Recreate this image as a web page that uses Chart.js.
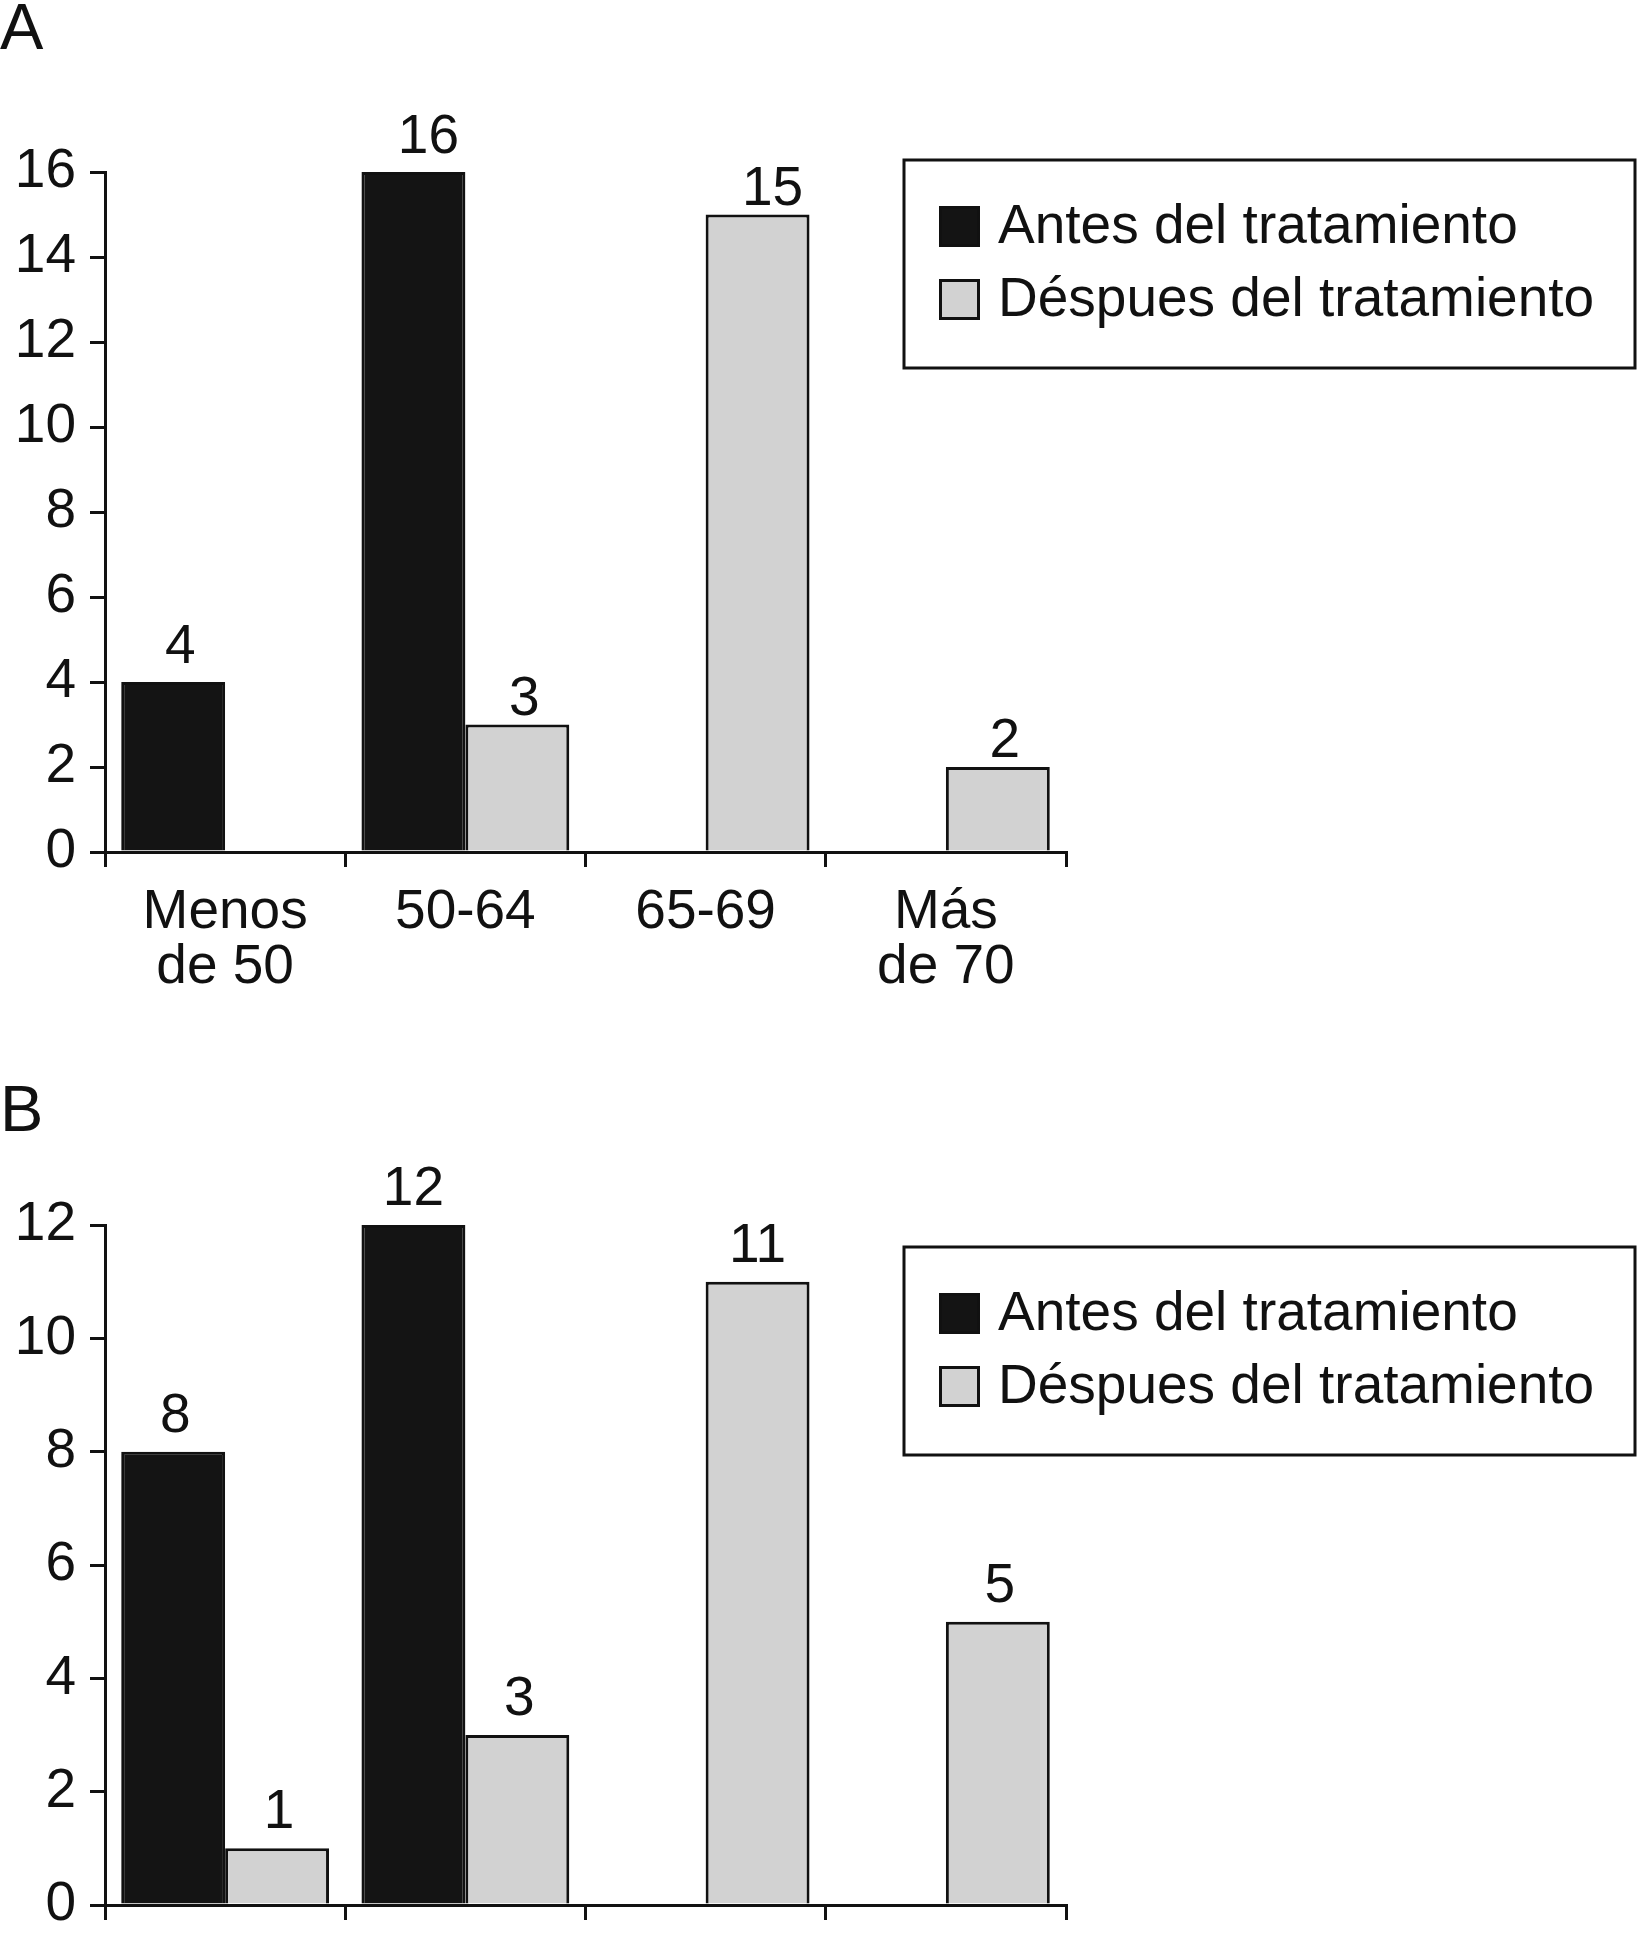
<!DOCTYPE html>
<html><head><meta charset="utf-8">
<script src="https://cdn.jsdelivr.net/npm/chart.js@4.4.0/dist/chart.umd.min.js"></script>
<style>
html,body{margin:0;padding:0;background:#fff;}
body{width:1638px;height:1938px;overflow:hidden;position:relative;font-family:"Liberation Sans",Arial,sans-serif;}
.panel{position:absolute;left:0;width:1638px;height:1040px;}
#wrapA{top:0;}
#wrapB{top:1000px;}
.letter{position:absolute;left:0;font-size:65px;line-height:65px;color:#111;}
</style></head><body>
<div class="panel" id="wrapA"><canvas id="chartA"></canvas></div>
<div class="panel" id="wrapB"><canvas id="chartB"></canvas></div>
<div class="letter" style="top:-6px">A</div>
<div class="letter" style="top:1076px">B</div>
<script>
// ---- data ----
const categories = [["Menos", "de 50"], "50-64", "65-69", ["Más", "de 70"]];
const seriesNames = ["Antes del tratamiento", "Déspues del tratamiento"];
const antesA = [4, 16, 0, 0];
const despuesA = [0, 3, 15, 2];
const antesB = [8, 12, 0, 0];
const despuesB = [1, 3, 11, 5];
const yMaxA = 16;
const yMaxB = 12;

// ---- styles ----
const FONT = '"Liberation Sans", Arial, sans-serif';
const INK = '#111111';
const BLACK = '#141414';
const GREY = '#d2d2d2';
Chart.defaults.font.family = FONT;
Chart.defaults.color = INK;

const boxLegend = {
  id: 'boxLegend',
  afterDraw(chart, args, o) {
    const ctx = chart.ctx;
    ctx.save();
    ctx.lineWidth = 3;
    ctx.strokeStyle = INK;
    ctx.strokeRect(o.x, o.y, o.w, o.h);
    chart.data.datasets.forEach((ds, i) => {
      const sy = o.y + o.firstRow + i * o.rowGap;
      const sx = o.x + o.sqX;
      ctx.fillStyle = ds.backgroundColor;
      ctx.fillRect(sx, sy, o.sq, o.sq);
      ctx.lineWidth = 3;
      ctx.strokeStyle = INK;
      ctx.strokeRect(sx + 1.5, sy + 1.5, o.sq - 3, o.sq - 3);
      ctx.fillStyle = INK;
      ctx.font = '55px ' + FONT;
      ctx.textAlign = 'left';
      ctx.textBaseline = 'alphabetic';
      ctx.fillText(ds.label, o.x + o.textX, sy + o.baseOff);
    });
    ctx.restore();
  }
};

const valueLabels = {
  id: 'valueLabels',
  afterDatasetsDraw(chart, args, o) {
    const ctx = chart.ctx;
    ctx.save();
    ctx.fillStyle = INK;
    ctx.font = '55px ' + FONT;
    ctx.textAlign = 'center';
    ctx.textBaseline = 'alphabetic';
    chart.data.datasets.forEach((ds, i) => {
      const meta = chart.getDatasetMeta(i);
      meta.data.forEach((bar, j) => {
        const v = ds.data[j];
        if (!v) return;
        const txt = String(v);
        const dx = txt.length > 1 ? o.dx2 : o.dx1;
        ctx.fillText(txt, bar.x + dx, bar.y + o.dy[i]);
      });
    });
    ctx.restore();
  }
};

function makeChart(id, antes, despues, yMax, padTop, xHeight, legendY, lbl) {
  return new Chart(document.getElementById(id), {
    type: 'bar',
    data: {
      labels: categories,
      datasets: [
        { label: seriesNames[0], data: antes, backgroundColor: BLACK, borderColor: INK, borderWidth: 3 },
        { label: seriesNames[1], data: despues, backgroundColor: GREY, borderColor: INK, borderWidth: 3 }
      ]
    },
    options: {
      responsive: true,
      maintainAspectRatio: false,
      animation: false,
      devicePixelRatio: 1,
      layout: { padding: { top: padTop, right: 572, left: 0, bottom: 0 } },
      datasets: { bar: { categoryPercentage: 0.865, barPercentage: 1.0 } },
      plugins: {
        legend: { display: false },
        tooltip: { enabled: false },
        boxLegend: { x: 904, y: legendY, w: 731, h: 208, sqX: 35, sq: 41, firstRow: 46, rowGap: 73, textX: 94, baseOff: 37 },
        valueLabels: lbl
      },
      scales: {
        x: {
          grid: { display: true, drawOnChartArea: false, drawTicks: true, tickLength: 15, color: INK, lineWidth: 3, offset: true },
          border: { display: true, color: INK, width: 3 },
          ticks: { font: { size: 55, lineHeight: 1.0 }, color: INK, padding: 18, maxRotation: 0, autoSkip: false },
          afterFit(scale) { scale.height = xHeight; }
        },
        y: {
          min: 0, max: yMax,
          grid: { display: true, drawOnChartArea: false, drawTicks: true, tickLength: 15, color: INK, lineWidth: 3 },
          border: { display: true, color: INK, width: 3 },
          ticks: { stepSize: 2, font: { size: 55 }, color: INK, padding: 14 },
          afterFit(scale) { scale.width = 105; }
        }
      }
    },
    plugins: [boxLegend, valueLabels]
  });
}

makeChart('chartA', antesA, despuesA, yMaxA, 172, 1040 - 852, 160, { dx1: 7, dx2: 15, dy: [-19, -10] });
makeChart('chartB', antesB, despuesB, yMaxB, 225, 1040 - 905, 247, { dx1: 2, dx2: 0, dy: [-20, -20] });
</script>
</body></html>
